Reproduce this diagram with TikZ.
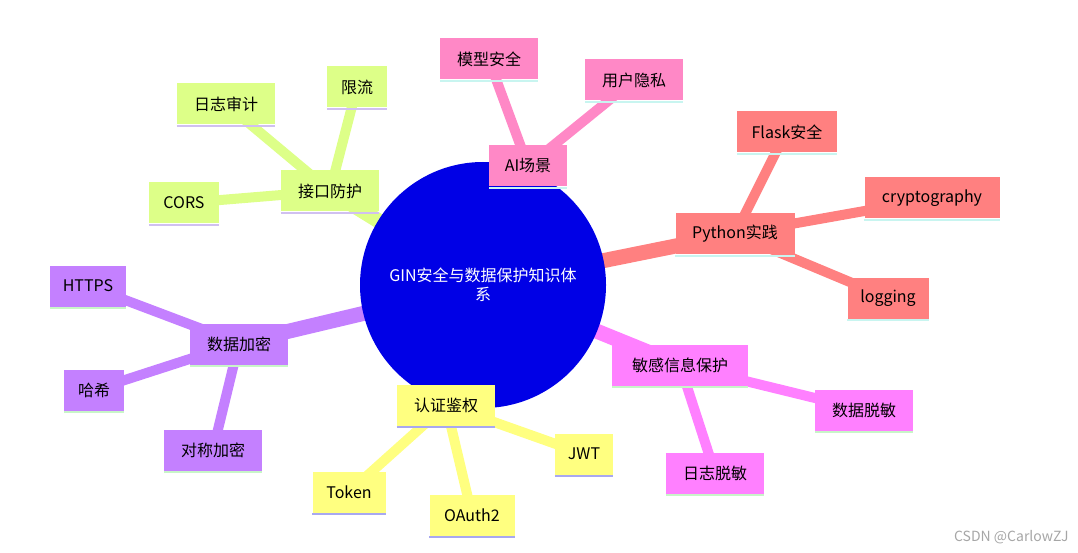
\documentclass[tikz,border=0pt]{standalone}
\usepackage{fontspec}
\setmainfont{Noto Sans CJK SC}
\begin{document}
\begin{tikzpicture}[x=1pt,y=-1pt,
  box/.style={minimum height=41pt,inner xsep=10pt,font=\fontsize{16}{19}\selectfont,text=black},
  e1/.style={line width=15pt},
  e2/.style={line width=10pt}]
\useasboundingbox (0,0) rectangle (1078,553);
\definecolor{cA}{HTML}{FF88C6}\definecolor{cP}{HTML}{FF8080}\definecolor{cM}{HTML}{FF80FF}
\definecolor{cY}{HTML}{FFFF80}\definecolor{cV}{HTML}{C480FF}\definecolor{cL}{HTML}{DDFF88}
\definecolor{uA}{HTML}{C8F5F0}\definecolor{uM}{HTML}{C8F5C8}\definecolor{uY}{HTML}{A8A8F0}\definecolor{uL}{HTML}{D0C0F0}
\coordinate (root) at (483,285);
\newcommand\bx[6]{\node[box,fill=#4,minimum width=#5pt] (#1) at #2 {#3};
  \draw[#6,line width=2.5pt] ([yshift=-1.2pt]#1.south west) -- ([yshift=-1.2pt]#1.south east);}
% edges
\foreach \c/\p in {cA/528:166,cP/735:234,cM/680:365,cY/446:405,cV/239:343,cL/330:191}{}
\coordinate (a) at (528,166);\coordinate (p) at (735,234);\coordinate (m) at (680,365);
\coordinate (y) at (446,405);\coordinate (v) at (239,343);\coordinate (l) at (330,191);
\draw[e1,cA] (root)--(a);\draw[e1,cP] (root)--(p);\draw[e1,cM] (root)--(m);
\draw[e1,cY] (root)--(y);\draw[e1,cV] (root)--(v);\draw[e1,cL] (root)--(l);
\draw[e2,cA] (a)--(489,60);\draw[e2,cA] (a)--(634,80);
\draw[e2,cP] (p)--(786,132);\draw[e2,cP] (p)--(932,199);\draw[e2,cP] (p)--(888,298);
\draw[e2,cM] (m)--(864,410);\draw[e2,cM] (m)--(715,473);
\draw[e2,cY] (y)--(584,454);\draw[e2,cY] (y)--(472,515);\draw[e2,cY] (y)--(349,492);
\draw[e2,cV] (v)--(88,286);\draw[e2,cV] (v)--(94,390);\draw[e2,cV] (v)--(213,450);
\draw[e2,cL] (l)--(226,104);\draw[e2,cL] (l)--(357,87);\draw[e2,cL] (l)--(184,203);
\node[circle,fill={rgb,255:red,0;green,0;blue,230},minimum size=246pt,align=center,text=white,font=\fontsize{16}{19}\selectfont] (rootn) at (root) {GIN安全与数据保护知识体\\系};
% nodes
\bx{na}{(528,166)}{AI场景}{cA}{78}{uA}
\bx{na1}{(489,59)}{模型安全}{cA}{98}{uA}
\bx{na2}{(634,80)}{用户隐私}{cA}{98}{uA}
\bx{np}{(735,234)}{Python实践}{cP}{119}{uA}
\bx{np1}{(787,132)}{Flask安全}{cP}{100}{uA}
\bx{np2}{(932,198)}{cryptography}{cP}{135}{uA}
\bx{np3}{(888,298)}{logging}{cP}{81}{uA}
\bx{nm}{(680,365)}{敏感信息保护}{cM}{136}{uM}
\bx{nm1}{(864,410)}{数据脱敏}{cM}{98}{uM}
\bx{nm2}{(715,473)}{日志脱敏}{cM}{98}{uM}
\bx{ny}{(446,405)}{认证鉴权}{cY}{98}{uY}
\bx{ny1}{(584,454)}{JWT}{cY}{58}{uY}
\bx{ny2}{(472,515)}{OAuth2}{cY}{85}{uY}
\bx{ny3}{(349,492)}{Token}{cY}{73}{uY}
\bx{nv}{(239,344)}{数据加密}{cV}{98}{uM}
\bx{nv1}{(88,286)}{HTTPS}{cV}{76}{uM}
\bx{nv2}{(94,390)}{哈希}{cV}{60}{uM}
\bx{nv3}{(213,450)}{对称加密}{cV}{98}{uM}
\bx{nl}{(330,191)}{接口防护}{cL}{98}{uL}
\bx{nl1}{(226,104)}{日志审计}{cL}{98}{uL}
\bx{nl2}{(357,87)}{限流}{cL}{60}{uL}
\bx{nl3}{(184,203)}{CORS}{cL}{70}{uL}
\node[text=gray!70,font=\fontsize{14}{16}\selectfont,anchor=east] (wm) at (1072,537) {CSDN @CarlowZJ};
\end{tikzpicture}
\end{document}
